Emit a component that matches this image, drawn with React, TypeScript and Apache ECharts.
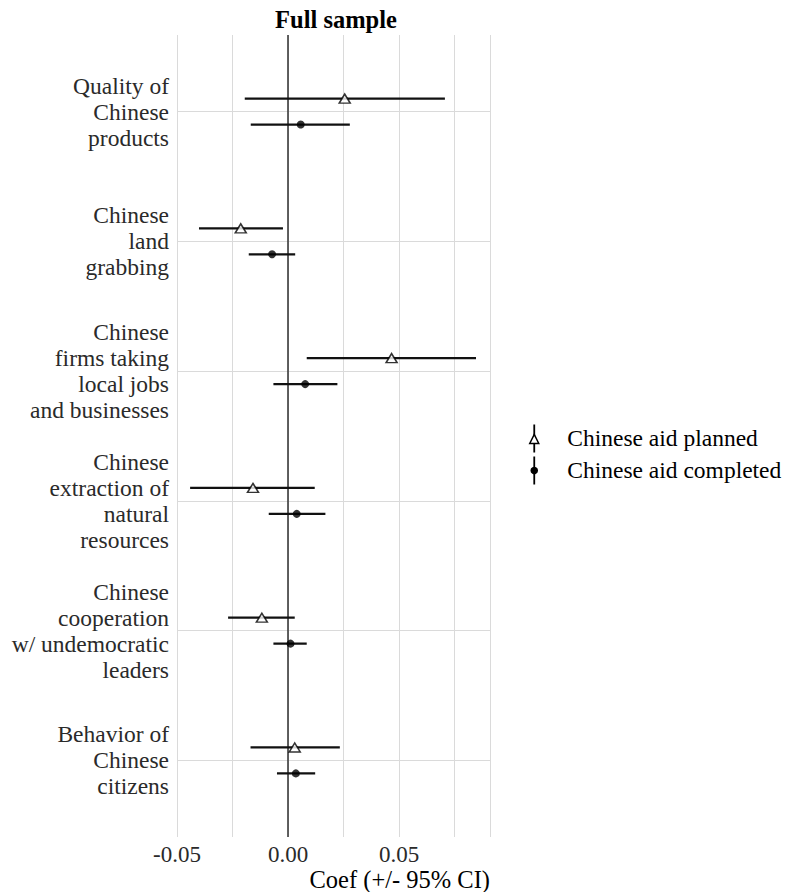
import React, { useEffect, useRef } from "react";
import * as echarts from "echarts";

const categories = [
  "Quality of\nChinese\nproducts",
  "Chinese\nland\ngrabbing",
  "Chinese\nfirms taking\nlocal jobs\nand businesses",
  "Chinese\nextraction of\nnatural\nresources",
  "Chinese\ncooperation\nw/ undemocratic\nleaders",
  "Behavior of\nChinese\ncitizens",
];
const categoryPos = [1, 2, 3, 4, 5, 6];

const plannedEst = [0.0255, -0.0213, 0.0466, -0.0158, -0.0118, 0.003];
const plannedLo = [-0.0195, -0.0401, 0.0084, -0.0441, -0.027, -0.0169];
const plannedHi = [0.0706, -0.0023, 0.0846, 0.012, 0.003, 0.0233];

const completedEst = [0.0057, -0.0072, 0.0077, 0.0039, 0.0011, 0.0035];
const completedLo = [-0.0168, -0.0177, -0.0066, -0.0087, -0.0066, -0.005];
const completedHi = [0.0278, 0.0032, 0.0222, 0.0168, 0.0084, 0.0122];

const xTickLabels = ["-0.05", "0.00", "0.05"];
const seriesNames = ["Chinese aid planned", "Chinese aid completed"];

const FONT = "Liberation Serif";
const OFFSET = 0.1;

export default function App() {
  const ref = useRef<HTMLDivElement>(null);

  useEffect(() => {
    document.body.style.margin = "0";
    const chart = echarts.init(ref.current!, null, { renderer: "svg" });

    const plannedY = categoryPos.map((p) => p - OFFSET);
    const completedY = categoryPos.map((p) => p + OFFSET);

    const barData = [
      ...plannedLo.map((lo, i) => [lo, plannedHi[i], plannedY[i]]),
      ...completedLo.map((lo, i) => [lo, completedHi[i], completedY[i]]),
    ];

    const option: any = {
      animation: false,
      title: {
        text: "Full sample",
        left: 331,
        textAlign: "center",
        top: 2,
        textStyle: { fontFamily: FONT, fontWeight: "bold", fontSize: 24.5, color: "#000" },
      },
      grid: { left: 177, right: 295, top: 35, bottom: 55, containLabel: false },
      xAxis: {
        type: "value",
        min: -0.05,
        max: 0.0909,
        interval: 0.025,
        axisLine: { show: false },
        axisTick: { show: false },
        splitLine: { show: true, lineStyle: { color: "#dadada", width: 1 } },
        axisLabel: {
          fontFamily: FONT,
          fontWeight: "normal",
          fontSize: 23,
          color: "#2a2a2a",
          margin: 6,
          showMaxLabel: false,
          formatter: (v: number) => {
            const idx = Math.round((v + 0.05) / 0.05);
            if (Math.abs(v + 0.05 - idx * 0.05) > 1e-6) return "";
            return xTickLabels[idx] ?? "";
          },
        },
        name: "Coef (+/- 95% CI)",
        nameLocation: "end",
        nameGap: 0,
        nameTextStyle: {
          fontFamily: FONT,
          fontWeight: "normal",
          fontSize: 24.5,
          color: "#000",
          align: "right",
          verticalAlign: "top",
          padding: [30, 0, 0, 0],
        },
      },
      yAxis: {
        type: "value",
        inverse: true,
        min: 0.41,
        max: 6.59,
        axisLine: { show: false },
        axisTick: { show: false },
        splitLine: { show: false },
        axisLabel: {
          customValues: categoryPos,
          fontFamily: FONT,
          fontWeight: "normal",
          fontSize: 23.5,
          lineHeight: 26,
          color: "#2a2a2a",
          margin: 8,
          align: "right",
          formatter: (v: number) => {
            const i = categoryPos.indexOf(Math.round(v));
            return i >= 0 ? categories[i] : "";
          },
        },
      },
      series: [
        {
          type: "custom",
          name: "CI",
          z: 3,
          silent: true,
          data: barData,
          encode: { x: [0, 1], y: 2 },
          renderItem: (_params: any, api: any) => {
            const p1 = api.coord([api.value(0), api.value(2)]);
            const p2 = api.coord([api.value(1), api.value(2)]);
            return {
              type: "line",
              shape: { x1: p1[0], y1: p1[1], x2: p2[0], y2: p2[1] },
              style: { stroke: "#111", lineWidth: 2.2 },
            };
          },
          markLine: {
            silent: true,
            symbol: "none",
            label: { show: false },
            z: 1,
            data: [
              ...categoryPos.map((p) => ({
                yAxis: p,
                lineStyle: { color: "#dadada", width: 1, type: "solid" },
              })),
              { xAxis: 0, lineStyle: { color: "#3a3a3a", width: 1.6, type: "solid" } },
            ],
          },
        },
        {
          type: "scatter",
          name: seriesNames[0],
          z: 5,
          symbol: "triangle",
          symbolSize: [11, 9],
          itemStyle: { color: "#fff", borderColor: "#000", borderWidth: 1.5 },
          data: plannedEst.map((v, i) => [v, plannedY[i]]),
        },
        {
          type: "scatter",
          name: seriesNames[1],
          z: 5,
          symbol: "circle",
          symbolSize: 8,
          itemStyle: { color: "#000" },
          data: completedEst.map((v, i) => [v, completedY[i]]),
        },
      ],
      graphic: [
        {
          type: "group",
          left: 529,
          top: 422,
          children: [
            { type: "line", shape: { x1: 6, y1: 0, x2: 6, y2: 28 }, style: { stroke: "#000", lineWidth: 1.8 } },
            {
              type: "polygon",
              shape: { points: [[1.5, 19], [10.5, 19], [6, 10]] },
              style: { fill: "#fff", stroke: "#000", lineWidth: 1.5 },
            },
            {
              type: "text",
              x: 39,
              y: 13,
              style: { text: seriesNames[0], fontFamily: FONT, fontSize: 23.5, fill: "#000", verticalAlign: "middle" },
            },
            { type: "line", shape: { x1: 6, y1: 32, x2: 6, y2: 60 }, style: { stroke: "#000", lineWidth: 1.8 } },
            { type: "circle", shape: { cx: 6, cy: 46, r: 3.8 }, style: { fill: "#000" } },
            {
              type: "text",
              x: 39,
              y: 45,
              style: { text: seriesNames[1], fontFamily: FONT, fontSize: 23.5, fill: "#000", verticalAlign: "middle" },
            },
          ],
        },
      ],
    };

    chart.setOption(option);
    return () => chart.dispose();
  }, []);

  return <div ref={ref} style={{ width: 785, height: 892 }} />;
}
